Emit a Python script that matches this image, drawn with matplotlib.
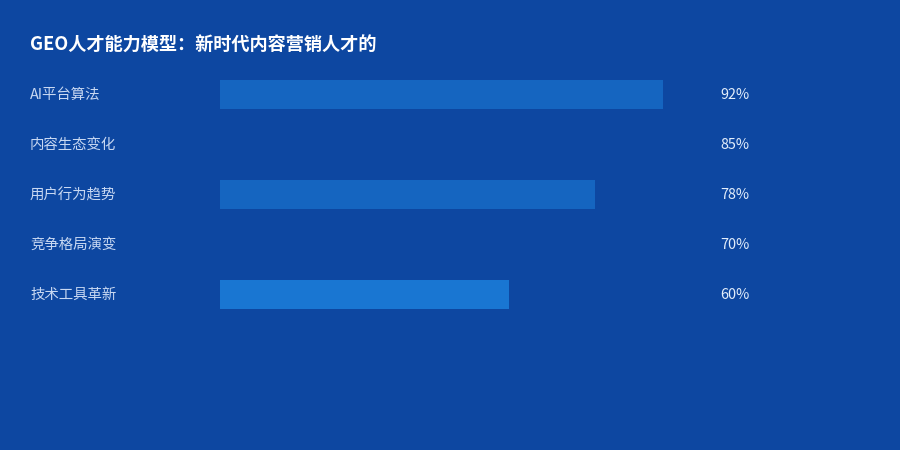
import matplotlib
matplotlib.use("Agg")
import matplotlib.pyplot as plt

plt.rcParams['font.family'] = ['Noto Sans CJK SC', 'DejaVu Sans']

title = "GEO人才能力模型：新时代内容营销人才的"
categories = ["AI平台算法", "内容生态变化", "用户行为趋势", "竞争格局演变", "技术工具革新"]
values = [92, 85, 78, 70, 60]
bar_colors = ["#1565C0", "#0D47A1", "#1565C0", "#0D47A1", "#1976D2"]
bg = "#0D47A1"

W, H = 900, 450
fig = plt.figure(figsize=(9, 4.5), dpi=100)
fig.patch.set_facecolor(bg)

ax = fig.add_axes([220 / W, 1 - 319 / H, 481 / W, 250 / H])
ax.set_facecolor(bg)
ys = list(range(len(categories)))
ax.barh(ys, values, height=0.58, color=bar_colors, linewidth=0)
ax.set_xlim(0, 100)
ax.set_ylim(len(categories) - 0.5, -0.5)
ax.axis("off")

for y, c, v in zip(ys, categories, values):
    ax.annotate(c, xy=(0, y), xycoords=("axes fraction", "data"),
                xytext=(-190 * 72 / 100, -0.8), textcoords="offset points",
                ha="left", va="center", fontsize=10.4, color="#C8D8F2")
    ax.annotate(f"{v}%", xy=(1, y), xycoords=("axes fraction", "data"),
                xytext=(19 * 72 / 100, -0.8), textcoords="offset points",
                ha="left", va="center", fontsize=10.4, color="#E3EEFB")

fig.text(30 / W, 1 - 45 / H, title, ha="left", va="center",
         fontsize=13.1, fontweight="bold", color="white")

fig.savefig("out.png", dpi=100, facecolor=bg)
